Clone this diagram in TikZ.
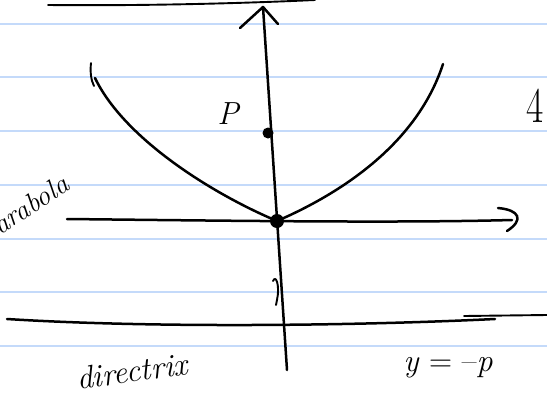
\documentclass[tikz,border=0pt]{standalone}
\usepackage{fontspec}
\definecolor{ruleblue}{RGB}{196,218,250}
\begin{document}
\begin{tikzpicture}[x=1pt,y=-1pt,
  ink/.style={line width=2.5pt, line cap=round, line join=round, black},
  thinink/.style={line width=1.9pt, line cap=round, line join=round, black},
  rule/.style={line width=1.5pt, ruleblue},
  dotnode/.style={circle, fill=black, inner sep=0pt},
  hand/.style={font=\itshape, inner sep=0pt}]
\useasboundingbox (0,0) rectangle (547,397);
\clip (0,0) rectangle (547,397);
% ruled paper
\foreach \yy in {24,77,131,185,239,292,346} \draw[rule] (0,\yy) -- (547,\yy);
% top line
\draw[thinink] (48,5) .. controls (150,6) and (250,3) .. (315,0);
% named points
\coordinate (ytop) at (263,7);
\coordinate (ybot) at (287,370);
\coordinate (xleft) at (67,219);
\coordinate (xright) at (512,220);
\coordinate (lefttop) at (95,78);
\coordinate (righttop) at (443,64);
\node[dotnode, minimum size=14pt] (O) at (277,221) {};
\node[dotnode, minimum size=11pt] (F) at (268,133) {};
% vertical axis with open arrowhead
\draw[ink] (ytop) -- (ybot);
\draw[ink] (240,28) -- (ytop) -- (278,24);
% horizontal axis with curved arrowhead
\draw[ink] (xleft) .. controls (250,221) and (400,223) .. (xright);
\draw[ink] (498,208) .. controls (520,210) and (524,220) .. (507,231);
% parabola
\draw[thinink] (91,63) .. controls (90,72) and (91,80) .. (94,86);
\draw[ink] (O.center) .. controls (215,195) and (125,140) .. (lefttop);
\draw[ink] (O.center) .. controls (330,198) and (415,150) .. (righttop);
% small stroke beside the axis
\draw[thinink] (273,281) .. controls (276,274) and (280,286) .. (277,300) -- (276,305);
% directrix
\draw[ink] (7,319) .. controls (150,328) and (350,326) .. (495,319);
\draw[thinink] (464,316) -- (547,315);
% labels
\node[hand, font=\itshape\fontsize{32}{32}\selectfont] (Plabel) at (228,114) {P};
\node[hand, font=\fontsize{50}{50}\selectfont, xscale=0.75] (four) at (535,106) {4};
\node[hand, font=\itshape\fontsize{28}{28}\selectfont, rotate=33, anchor=south east] (parab) at (74,194) {parabola};
\node[hand, font=\itshape\fontsize{32}{32}\selectfont, rotate=8] (dir) at (132,371) {directrix};
\node[hand, font=\fontsize{32}{32}\selectfont] (eqn) at (448,368) {\textit{y} = \textendash\textit{p}};
\end{tikzpicture}
\end{document}
